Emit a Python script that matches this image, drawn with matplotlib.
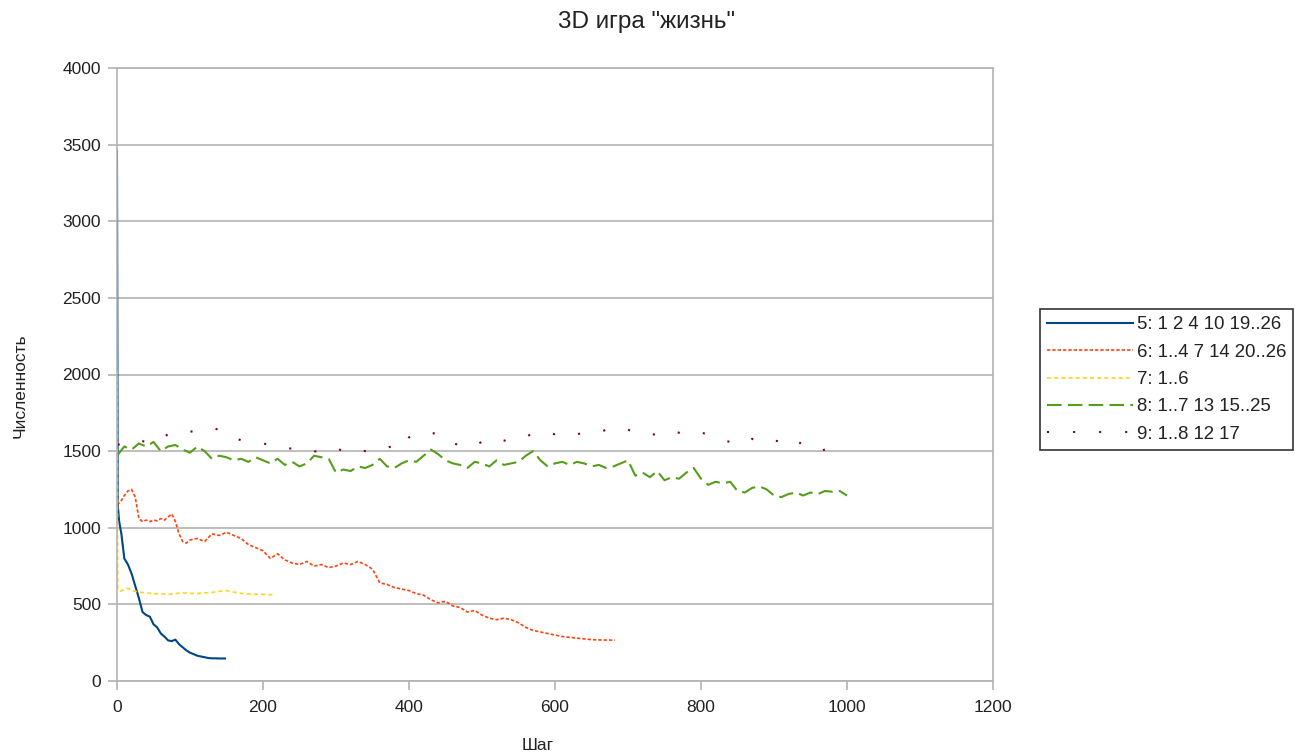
import matplotlib
matplotlib.use('Agg')
import matplotlib.pyplot as plt

plt.rcParams['font.family'] = ['Liberation Sans', 'DejaVu Sans']

# series 5: 1 2 4 10 19..26
steps_5 = [0, 1, 3, 6, 10, 15, 20, 25, 30, 35, 40, 45, 50, 55, 60, 65, 70, 75, 80,
           85, 90, 95, 100, 105, 110, 115, 120, 125, 130, 135, 140, 148]
count_5 = [3460, 1150, 1040, 960, 800, 760, 700, 620, 540, 450, 430, 420, 370, 350,
           310, 290, 265, 260, 270, 240, 220, 200, 185, 175, 165, 160, 155, 150, 148,
           148, 147, 147]

# series 6: 1..4 7 14 20..26
steps_6 = [0, 5, 10, 15, 20, 25, 30, 35, 40, 45, 50, 55, 60, 65, 70, 75, 80, 85, 90, 95,
           100, 110, 120, 130, 140, 150, 160, 170, 180, 190, 200, 210, 220, 230, 240,
           250, 260, 270, 280, 290, 300, 310, 320, 330, 340, 350, 360, 370, 380, 390,
           400, 410, 420, 430, 440, 450, 460, 470, 480, 490, 500, 510, 520, 530, 540,
           550, 560, 570, 580, 590, 600, 610, 620, 630, 640, 650, 660, 670, 682]
count_6 = [1150, 1170, 1210, 1240, 1250, 1200, 1060, 1040, 1050, 1040, 1050, 1045, 1060,
           1050, 1070, 1090, 1040, 960, 910, 900, 920, 930, 910, 960, 950, 970, 950, 930,
           890, 870, 850, 800, 830, 790, 770, 760, 780, 750, 760, 740, 750, 770, 760,
           780, 760, 730, 640, 630, 610, 600, 590, 570, 560, 530, 510, 520, 490, 480,
           450, 460, 430, 410, 400, 410, 400, 380, 350, 330, 320, 310, 300, 290, 285,
           280, 275, 270, 268, 267, 267]

# series 7: 1..6
steps_7 = [0, 1, 5, 10, 15, 20, 30, 40, 50, 60, 70, 80, 90, 100, 110, 120, 130, 140,
           150, 160, 170, 180, 190, 200, 210, 216]
count_7 = [2030, 600, 585, 600, 605, 590, 580, 575, 570, 568, 565, 570, 575, 572, 570,
           575, 578, 585, 590, 580, 572, 568, 566, 565, 563, 563]

# series 8: 1..7 13 15..25
steps_8 = list(range(0, 1001, 10))
count_8 = [1470, 1530, 1510, 1550, 1530, 1560, 1500, 1530, 1540, 1510, 1490, 1530, 1500,
           1450, 1470, 1460, 1440, 1450, 1430, 1460, 1440, 1420, 1450, 1410, 1430, 1400,
           1420, 1470, 1460, 1450, 1360, 1380, 1370, 1400, 1390, 1410, 1450, 1400, 1390,
           1420, 1440, 1430, 1470, 1510, 1480, 1440, 1420, 1410, 1390, 1430, 1420, 1400,
           1440, 1410, 1420, 1430, 1470, 1500, 1440, 1400, 1420, 1430, 1410, 1430, 1420,
           1400, 1410, 1390, 1400, 1420, 1440, 1340, 1360, 1330, 1370, 1310, 1330, 1320,
           1360, 1390, 1320, 1280, 1300, 1290, 1300, 1240, 1230, 1260, 1270, 1250, 1210,
           1200, 1220, 1230, 1210, 1230, 1220, 1240, 1235, 1240, 1210]

# series 9: 1..8 12 17
steps_9 = [1] + list(range(10, 1001, 10))
count_9 = [1540, 1560, 1550, 1570, 1560, 1550, 1580, 1610, 1600, 1620, 1630, 1620,
           1640, 1650, 1640, 1630, 1590, 1570, 1560, 1560, 1550, 1540, 1520, 1510, 1520,
           1500, 1510, 1500, 1490, 1510, 1520, 1500, 1520, 1510, 1500, 1490, 1510, 1520,
           1540, 1520, 1590, 1610, 1600, 1620, 1610, 1560, 1550, 1540, 1560, 1540, 1560,
           1550, 1580, 1570, 1560, 1570, 1590, 1620, 1610, 1620, 1610, 1630, 1620, 1610,
           1620, 1630, 1620, 1640, 1620, 1630, 1640, 1620, 1610, 1620, 1600, 1620, 1630,
           1620, 1610, 1600, 1620, 1610, 1590, 1570, 1560, 1570, 1550, 1580, 1560, 1550,
           1570, 1560, 1590, 1570, 1540, 1510, 1500, 1510, 1505, 1500, 1505]

grid_color = '#b3b3b3'
text_color = '#222222'

fig = plt.figure(figsize=(12.99, 7.56), dpi=100)
ax = fig.add_axes([117 / 1299, 1 - 681 / 756, (993 - 117) / 1299, (681 - 68) / 756])

ax.plot(steps_5, count_5, color='#004586', lw=1.5, label='5: 1 2 4 10 19..26')
ax.plot(steps_6, count_6, color='#ff420e', lw=1.2, linestyle=(0, (2, 1.2)),
        label='6: 1..4 7 14 20..26')
ax.plot(steps_7, count_7, color='#ffd320', lw=1.2, linestyle=(0, (2.5, 1.8)),
        label='7: 1..6')
ax.plot(steps_8, count_8, color='#579d1c', lw=1.5, linestyle=(0, (7, 3)),
        label='8: 1..7 13 15..25')
ax.plot(steps_9, count_9, color='#7e0021', lw=1.5, linestyle=(0, (1, 11.5)),
        label='9: 1..8 12 17')

ax.set_xlim(0, 1200)
ax.set_ylim(0, 4000)
ax.set_xticks(range(0, 1201, 200))
ax.set_yticks(range(0, 4001, 500))
ax.yaxis.grid(True, color=grid_color, lw=1.2)
ax.set_axisbelow(True)
for s in ax.spines.values():
    s.set_color(grid_color)
    s.set_linewidth(1.2)
ax.tick_params(colors=grid_color, labelcolor=text_color, length=6.5, width=1.2,
               labelsize=12.5)
ax.tick_params(axis='x', pad=7)
ax.tick_params(axis='y', pad=5)

fig.text(646 / 1299, 1 - 28 / 756, '3D игра "жизнь"', ha='center', va='baseline',
         fontsize=17.5, color=text_color)
fig.text(20 / 1299, 1 - 386 / 756, 'Численность', rotation=90, ha='center',
         va='center', fontsize=12.5, color=text_color)
fig.text(538 / 1299, 1 - 745 / 756, 'Шаг', ha='center', va='center', fontsize=12.5,
         color=text_color)

leg = ax.legend(loc='center left', bbox_to_anchor=(1040 / 1299, 1 - 379.5 / 756),
                bbox_transform=fig.transFigure, fontsize=13.4, handlelength=4.6,
                handletextpad=0.22, labelspacing=0.55, borderpad=0.38,
                borderaxespad=0, fancybox=False, framealpha=1)
leg.get_frame().set_edgecolor('#333333')
leg.get_frame().set_linewidth(1.2)
for t in leg.get_texts():
    t.set_color(text_color)

fig.savefig('out.png', dpi=100)
